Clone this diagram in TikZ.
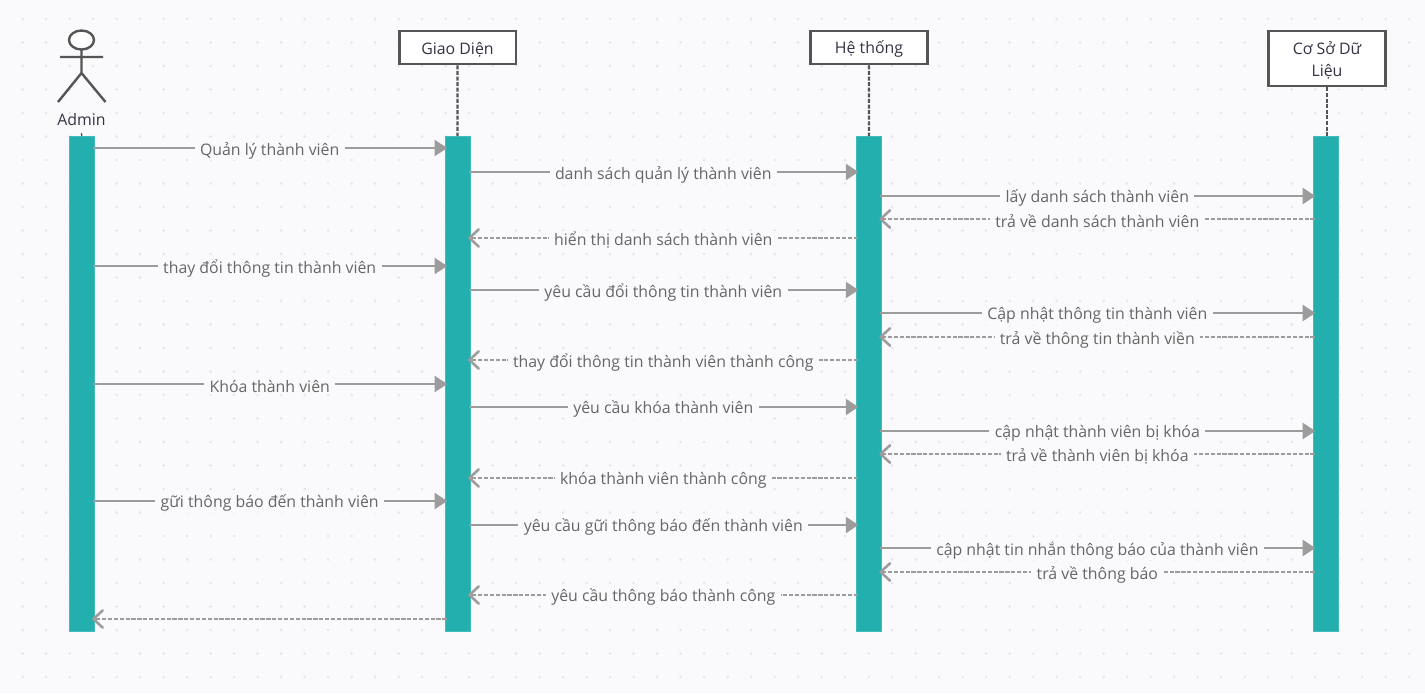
\documentclass[tikz,border=0pt]{standalone}
\usepackage{fontspec}
\setmainfont{Open Sans}
\usetikzlibrary{arrows.meta,calc}
\definecolor{bgc}{HTML}{FAFAFD}
\definecolor{dotc}{HTML}{E6E6EA}
\definecolor{teal1}{HTML}{22AFAD}
\definecolor{ink}{HTML}{555555}
\definecolor{msgc}{HTML}{9C9C9C}
\definecolor{txtc}{HTML}{666666}
\definecolor{boxtxt}{HTML}{333344}
\tikzset{
  px/.style={x=0.75pt,y=-0.75pt},
  bar/.style={draw=teal1!85!white,line width=0.5pt,fill=teal1,inner sep=0,minimum width=19.2pt,anchor=north},
  actorbox/.style={draw=ink,line width=2pt,fill=white,inner sep=0,font=\fontsize{11.9}{16.5}\selectfont,text=boxtxt,align=center,minimum width=87.5pt},
  lifeline/.style={draw=ink,line width=1.7pt,dash pattern=on 3pt off 1.2pt},
  msgsolid/.style={draw=msgc,line width=1.9pt,-{Triangle[length=9.5pt,width=12pt,fill=msgc]}},
  msgdash/.style={draw=msgc,line width=1.9pt,dash pattern=on 3.2pt off 1.2pt,-{Straight Barb[length=7pt,width=13pt,line width=1.9pt,round]}},
  msglabel/.style={fill=bgc,text=txtc,inner xsep=4pt,inner ysep=1pt,font=\fontsize{11.9}{13}\selectfont},
}
\newcommand{\msgS}[4]{\draw[msgsolid] (#1.east |- 0,#3) ++(-1.5pt,0) -- ([xshift=2pt]#2.west |- 0,#3);
  \node[msglabel] at ([yshift=-1.8pt]$(#1.east |- 0,#3)!0.5!(#2.west |- 0,#3)$) {#4};}
\newcommand{\msgD}[4]{\draw[msgdash] (#1.west |- 0,#3) ++(1.5pt,0) -- ([xshift=-2pt]#2.east |- 0,#3);
  \node[msglabel] at ([yshift=-1.8pt]$(#1.west |- 0,#3)!0.5!(#2.east |- 0,#3)$) {#4};}
\begin{document}
\begin{tikzpicture}[px]
\useasboundingbox (0,0) rectangle (1425,693);
\fill[bgc] (0,0) rectangle (1425,693);
\foreach \i in {-1,...,60}{\foreach \j in {0,...,28}{
  \fill[dotc] ({22.7+23.5*\i},{19+23.5*\j}) circle[radius=1.1pt];}}
% actor
\draw[ink,line width=1.8pt,fill=white] (81.5,40) ellipse[x radius=12.5,y radius=9.5];
\draw[ink,line width=1.8pt] (81.5,49.5) -- (81.5,73) (60,57) -- (103,57) (58,102) -- (81.5,73) -- (105.5,102);
\node[text=boxtxt,font=\fontsize{11.9}{13}\selectfont] (admin) at (81.5,119.5) {Admin};
% activation bars
\node[bar,minimum height=371.3pt] (ba) at (81.7,136) {};
\node[bar,minimum height=371.3pt] (bb) at (457.7,136) {};
\node[bar,minimum height=371.3pt] (bc) at (868.9,136) {};
\node[bar,minimum height=371.3pt] (bd) at (1325.8,136) {};
% headers
\node[actorbox,minimum height=24.7pt] (hb) at (457.5,47.5) {\rule{0pt}{12.5pt}Giao Diện};
\node[actorbox,minimum height=24.7pt] (hc) at (869,47.5) {\rule{0pt}{12.5pt}Hệ thống};
\node[actorbox,minimum height=41.2pt] (hd) at (1327,58.5) {\rule{0pt}{12.5pt}Cơ Sở Dữ\\Liệu};
\draw[lifeline] (hb) -- (bb);
\draw[lifeline] (hc) -- (bc);
\draw[lifeline] (hd.south) -- (hd.south |- bd.north);
\draw[ink,line width=1pt] (admin.south |- 0,133) -- (ba.north);
% messages
\msgS{ba}{bb}{148}{Quản lý thành viên}
\msgS{bb}{bc}{172}{danh sách quản lý thành viên}
\msgS{bc}{bd}{196}{lấy danh sách thành viên}
\msgD{bd}{bc}{219}{trả về danh sách thành viên}
\msgD{bc}{bb}{238}{hiển thị danh sách thành viên}
\msgS{ba}{bb}{266}{thay đổi thông tin thành viên}
\msgS{bb}{bc}{290}{yêu cầu đổi thông tin thành viên}
\msgS{bc}{bd}{313}{Cập nhật thông tin thành viên}
\msgD{bd}{bc}{337}{trả về thông tin thành viền}
\msgD{bc}{bb}{360}{thay đổi thông tin thành viên thành công}
\msgS{ba}{bb}{384}{Khóa thành viên}
\msgS{bb}{bc}{407}{yêu cầu khóa thành viên}
\msgS{bc}{bd}{431}{cập nhật thành viên bị khóa}
\msgD{bd}{bc}{454}{trả về thành viên bị khóa}
\msgD{bc}{bb}{478}{khóa thành viên thành công}
\msgS{ba}{bb}{501}{gữi thông báo đến thành viên}
\msgS{bb}{bc}{525}{yêu cầu gữi thông báo đến thành viên}
\msgS{bc}{bd}{548}{cập nhật tin nhắn thông báo của thành viên}
\msgD{bd}{bc}{572}{trả về thông báo}
\msgD{bc}{bb}{595}{yêu cầu thông báo thành công}
\draw[msgdash] ([xshift=1.5pt]bb.west |- 0,619) -- ([xshift=-2pt]ba.east |- 0,619);
\end{tikzpicture}
\end{document}
